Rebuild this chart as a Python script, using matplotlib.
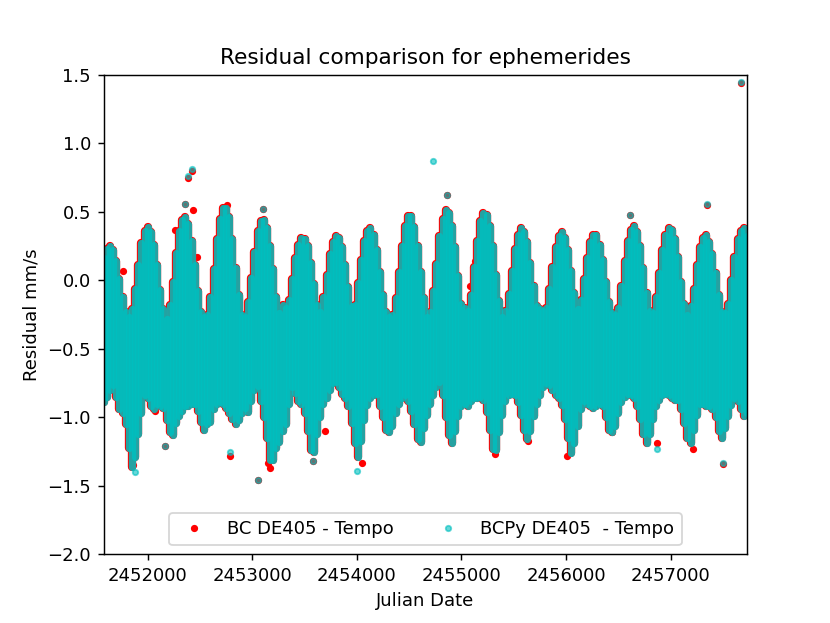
import matplotlib
matplotlib.use("Agg")
import matplotlib.pyplot as plt

jd = [2451580, 2451610, 2451640, 2451670, 2451700, 2451730, 2451760, 2451790, 2451820, 2451850, 2451880, 2451910,
      2451940, 2451970, 2452000, 2452030, 2452060, 2452090, 2452120, 2452150, 2452180, 2452210, 2452240, 2452270,
      2452300, 2452330, 2452360, 2452390, 2452420, 2452450, 2452480, 2452510, 2452540, 2452570, 2452600, 2452630,
      2452660, 2452690, 2452720, 2452750, 2452780, 2452810, 2452840, 2452870, 2452900, 2452930, 2452960, 2452990,
      2453020, 2453050, 2453080, 2453110, 2453140, 2453170, 2453200, 2453230, 2453260, 2453290, 2453320, 2453350,
      2453380, 2453410, 2453440, 2453470, 2453500, 2453530, 2453560, 2453590, 2453620, 2453650, 2453680, 2453710,
      2453740, 2453770, 2453800, 2453830, 2453860, 2453890, 2453920, 2453950, 2453980, 2454010, 2454040, 2454070,
      2454100, 2454130, 2454160, 2454190, 2454220, 2454250, 2454280, 2454310, 2454340, 2454370, 2454400, 2454430,
      2454460, 2454490, 2454520, 2454550, 2454580, 2454610, 2454640, 2454670, 2454700, 2454730, 2454760, 2454790,
      2454820, 2454850, 2454880, 2454910, 2454940, 2454970, 2455000, 2455030, 2455060, 2455090, 2455120, 2455150,
      2455180, 2455210, 2455240, 2455270, 2455300, 2455330, 2455360, 2455390, 2455420, 2455450, 2455480, 2455510,
      2455540, 2455570, 2455600, 2455630, 2455660, 2455690, 2455720, 2455750, 2455780, 2455810, 2455840, 2455870,
      2455900, 2455930, 2455960, 2455990, 2456020, 2456050, 2456080, 2456110, 2456140, 2456170, 2456200, 2456230,
      2456260, 2456290, 2456320, 2456350, 2456380, 2456410, 2456440, 2456470, 2456500, 2456530, 2456560, 2456590,
      2456620, 2456650, 2456680, 2456710, 2456740, 2456770, 2456800, 2456830, 2456860, 2456890, 2456920, 2456950,
      2456980, 2457010, 2457040, 2457070, 2457100, 2457130, 2457160, 2457190, 2457220, 2457250, 2457280, 2457310,
      2457340, 2457370, 2457400, 2457430, 2457460, 2457490, 2457520, 2457550, 2457580, 2457610, 2457640, 2457670,
      2457700, 2457730]

# Upper and lower edge of the residual cloud at each epoch (mm/s)
res_top = [0.16, 0.23, 0.25, 0.22, 0.14, 0.01, -0.12, -0.23, -0.27, -0.21, -0.06, 0.11,
           0.27, 0.36, 0.39, 0.35, 0.26, 0.11, -0.07, -0.21, -0.28, -0.18, -0.01, 0.20,
           0.36, 0.44, 0.46, 0.41, 0.29, 0.11, -0.08, -0.23, -0.27, -0.25, -0.12, 0.08,
           0.30, 0.45, 0.53, 0.53, 0.46, 0.30, 0.09, -0.11, -0.25, -0.27, -0.16, 0.02,
           0.21, 0.36, 0.43, 0.44, 0.38, 0.25, 0.08, -0.12, -0.24, -0.18, -0.20, -0.14,
           0.01, 0.16, 0.26, 0.31, 0.30, 0.25, 0.13, -0.03, -0.18, -0.23, -0.12, 0.04,
           0.19, 0.28, 0.32, 0.31, 0.24, 0.11, -0.05, -0.19, -0.18, -0.02, 0.15, 0.29,
           0.36, 0.38, 0.33, 0.22, 0.06, -0.11, -0.23, -0.27, -0.25, -0.13, 0.06, 0.25,
           0.40, 0.47, 0.47, 0.39, 0.25, 0.06, -0.13, -0.27, -0.23, -0.08, 0.12, 0.32,
           0.45, 0.51, 0.49, 0.40, 0.24, 0.03, -0.17, -0.20, -0.22, -0.11, 0.10, 0.29,
           0.43, 0.49, 0.48, 0.40, 0.25, 0.04, -0.15, -0.27, -0.22, -0.10, 0.07, 0.23,
           0.33, 0.38, 0.35, 0.28, 0.13, -0.04, -0.19, -0.21, -0.22, -0.20, -0.06, 0.10,
           0.24, 0.32, 0.35, 0.31, 0.22, 0.07, -0.09, -0.21, -0.14, 0.01, 0.16, 0.28,
           0.33, 0.33, 0.26, 0.15, -0.01, -0.16, -0.24, -0.25, -0.20, -0.04, 0.14, 0.29,
           0.37, 0.40, 0.35, 0.25, 0.09, -0.09, -0.22, -0.24, -0.12, 0.05, 0.22, 0.33,
           0.38, 0.37, 0.30, 0.17, -0.01, -0.17, -0.25, -0.19, -0.06, 0.11, 0.24, 0.31,
           0.33, 0.28, 0.19, 0.05, -0.11, -0.23, -0.24, -0.17, 0.00, 0.17, 0.30, 0.36,
           0.38, 0.32]
res_bot = [-0.89, -0.85, -0.80, -0.76, -0.85, -0.94, -0.97, -1.05, -1.22, -1.36, -1.29, -1.12,
           -0.97, -0.84, -0.86, -0.92, -0.94, -0.90, -0.92, -0.93, -1.02, -1.11, -1.13, -1.04,
           -0.99, -0.95, -0.92, -0.92, -0.90, -0.90, -0.95, -1.03, -1.09, -1.05, -1.03, -0.94,
           -0.90, -0.89, -0.90, -0.93, -0.97, -1.01, -1.05, -1.02, -0.97, -0.93, -0.96, -0.88,
           -0.80, -0.77, -0.88, -1.00, -1.15, -1.31, -1.31, -1.22, -1.18, -1.10, -1.05, -0.90,
           -0.78, -0.82, -0.88, -0.90, -0.97, -1.10, -1.24, -1.25, -1.12, -1.00, -0.90, -0.86,
           -0.80, -0.75, -0.74, -0.78, -0.83, -0.86, -0.92, -1.04, -1.19, -1.29, -1.17, -1.02,
           -0.91, -0.86, -0.84, -0.83, -0.92, -1.00, -1.09, -1.11, -1.06, -0.97, -0.90, -0.86,
           -0.84, -0.88, -0.95, -1.05, -1.16, -1.18, -1.08, -0.98, -0.90, -0.84, -0.78, -0.74,
           -0.84, -1.00, -1.13, -1.19, -1.10, -0.99, -0.92, -0.90, -0.92, -0.88, -0.86, -0.86,
           -0.85, -0.87, -0.96, -1.09, -1.23, -1.24, -1.11, -0.98, -0.88, -0.84, -0.83, -0.84,
           -0.89, -0.98, -1.09, -1.16, -1.10, -0.99, -0.90, -0.84, -0.78, -0.75, -0.76, -0.80,
           -0.84, -0.86, -0.91, -1.01, -1.15, -1.26, -1.19, -1.06, -0.94, -0.88, -0.90, -0.92,
           -0.93, -0.92, -0.90, -0.92, -1.00, -1.09, -1.11, -1.06, -0.97, -0.89, -0.85, -0.83,
           -0.84, -0.86, -0.92, -1.01, -1.12, -1.19, -1.12, -1.01, -0.92, -0.87, -0.84, -0.83,
           -0.84, -0.86, -0.87, -0.87, -0.94, -1.04, -1.15, -1.19, -1.09, -0.98, -0.90, -0.90,
           -0.92, -0.92, -0.94, -1.00, -1.10, -1.15, -1.08, -0.99, -0.91, -0.86, -0.88, -0.94,
           -0.99, -0.97]

# Residuals that stick out of the cloud, per series
bc_jd = [2457669, 2454858, 2452354, 2452382, 2452421, 2453099, 2456608, 2457344,
         2453052, 2452163, 2453577, 2457497, 2452258, 2452468, 2451876, 2451761,
         2452755, 2452430, 2451857, 2452067, 2452229, 2452784, 2453147, 2453166,
         2454046, 2453692, 2455317, 2455633, 2456006, 2455078, 2455126, 2456866,
         2457210, 2456436, 2457153]
bc_res = [1.44, 0.62, 0.56, 0.75, 0.80, 0.52, 0.48, 0.55,
          -1.46, -1.21, -1.32, -1.34, 0.37, 0.17, -0.08, 0.07,
          0.55, 0.51, -1.35, -0.95, -1.06, -1.28, -1.33, -1.37,
          -1.33, -1.10, -1.27, -1.17, -1.28, -0.04, 0.14, -1.19,
          -1.23, -1.11, -0.26]

bcpy_jd = [2457669, 2454858, 2452354, 2452382, 2452421, 2453099, 2456608, 2457344,
           2453052, 2452163, 2453577, 2457497, 2454725, 2452784, 2454003, 2456866,
           2451876]
bcpy_res = [1.45, 0.62, 0.56, 0.76, 0.81, 0.52, 0.48, 0.56,
            -1.46, -1.21, -1.32, -1.33, 0.87, -1.25, -1.39, -1.23,
            -1.40]

fig = plt.figure(figsize=(830 / 130, 623 / 130), dpi=130)
ax = fig.add_subplot(111)

# BC DE405 (red) underneath, BCPy DE405 (cyan, semi transparent) on top
bc_cloud = ax.vlines(jd, res_bot, res_top, colors='r', linewidth=4.6)
bc_cloud.set_capstyle('round')
ax.plot(bc_jd, bc_res, 'r.', label='BC DE405 - Tempo')

bcpy_cloud = ax.vlines(jd, res_bot, res_top, colors='c', alpha=0.85, linewidth=4.0)
bcpy_cloud.set_capstyle('round')
ax.plot(bcpy_jd, bcpy_res, 'c.', alpha=0.6, label='BCPy DE405  - Tempo')

ax.set_xlim(min(jd), max(jd))
ax.set_ylim(-2.0, 1.5)
ax.ticklabel_format(axis='x', style='plain', useOffset=False)
ax.set_title("Residual comparison for ephemerides")
ax.set_xlabel("Julian Date")
ax.set_ylabel("Residual mm/s")
ax.legend(loc='lower center', ncol=2)

fig.savefig("out.png", dpi=130)
plt.close(fig)
